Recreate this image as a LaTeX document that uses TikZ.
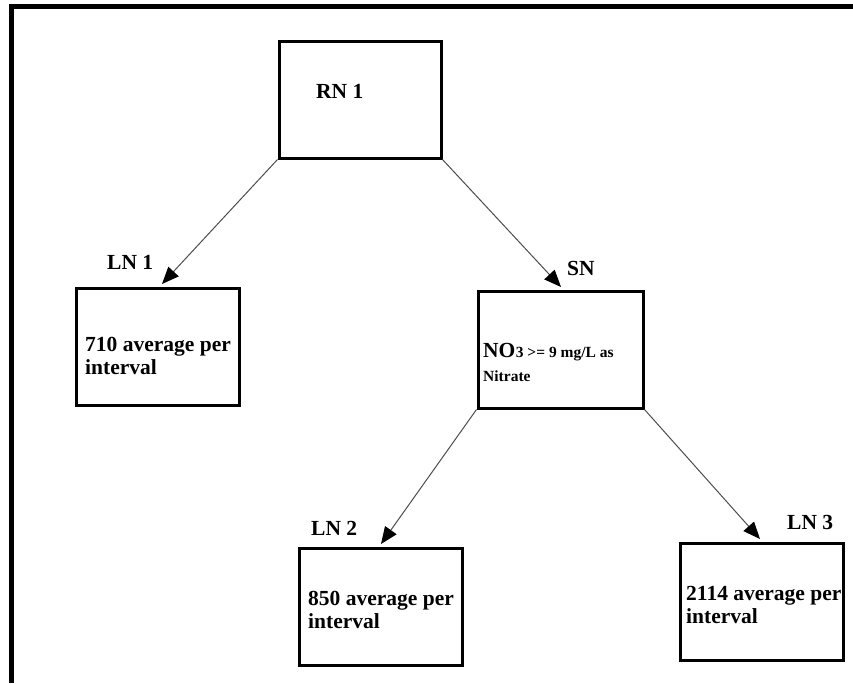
\documentclass[tikz,border=0pt]{standalone}
\usepackage{fontspec}
\setmainfont{Liberation Serif}
\usetikzlibrary{arrows.meta}
\begin{document}
\begin{tikzpicture}[x=1pt,y=-1pt,
  box/.style={draw=black,line width=3pt,minimum width=#1,minimum height=117pt,inner sep=0pt},
  box/.default=163pt,
  big/.style={font=\fontsize{21.5}{23}\selectfont\bfseries,inner sep=0pt,anchor=base west},
  small/.style={font=\fontsize{15.5}{16}\selectfont\bfseries,inner sep=0pt,anchor=base west},
  conn/.style={draw=black!70,line width=1pt,-{Triangle[length=17pt,width=14pt,fill=black,color=black]}}]
\useasboundingbox (0,0) rectangle (853,683);
% frame
\fill[black] (9,4) rectangle (853,9);
\fill[black] (9,4) rectangle (14,683);
% boxes
\node[box=162pt] (RN1) at (360,99.5) {};
\node[box] (LN1) at (157.5,347) {};
\node[box=165pt] (SN) at (560.5,349.5) {};
\node[box] (LN2) at (380.5,606.5) {};
\node[box] (LN3) at (761.5,601.5) {};
% texts
\node[big] (tRN) at (316,98) {RN 1};
\node[big] (lLN1) at (107,269) {LN 1};
\node[big] (lSN) at (567,275) {SN};
\node[big] (lLN2) at (311,535) {LN 2};
\node[big] (lLN3) at (787,529) {LN 3};
\node[big] (t1a) at (85,351) {710 average per};
\node[big] (t1b) at (85,374) {interval};
\node[big] (tSNa) at (483,357) {NO};
\node[small] (tSNb) at (tSNa.base east) {3 >= 9 mg/L as};
\node[small] (tSNc) at (483,381) {Nitrate};
\node[big] (t2a) at (308,605) {850 average per};
\node[big] (t2b) at (308,628) {interval};
\node[big] (t3a) at (686,600) {2114 average per};
\node[big] (t3b) at (686,623) {interval};
% connectors
\coordinate (e1) at (162,284);
\coordinate (e2) at (561,287);
\coordinate (e3) at (381,544);
\coordinate (e4) at (760,539);
\draw[conn] (RN1.south west) -- (e1);
\draw[conn] (RN1.south east) -- (e2);
\draw[conn] (SN.south west) -- (e3);
\draw[conn] (SN.south east) -- (e4);
\end{tikzpicture}
\end{document}
